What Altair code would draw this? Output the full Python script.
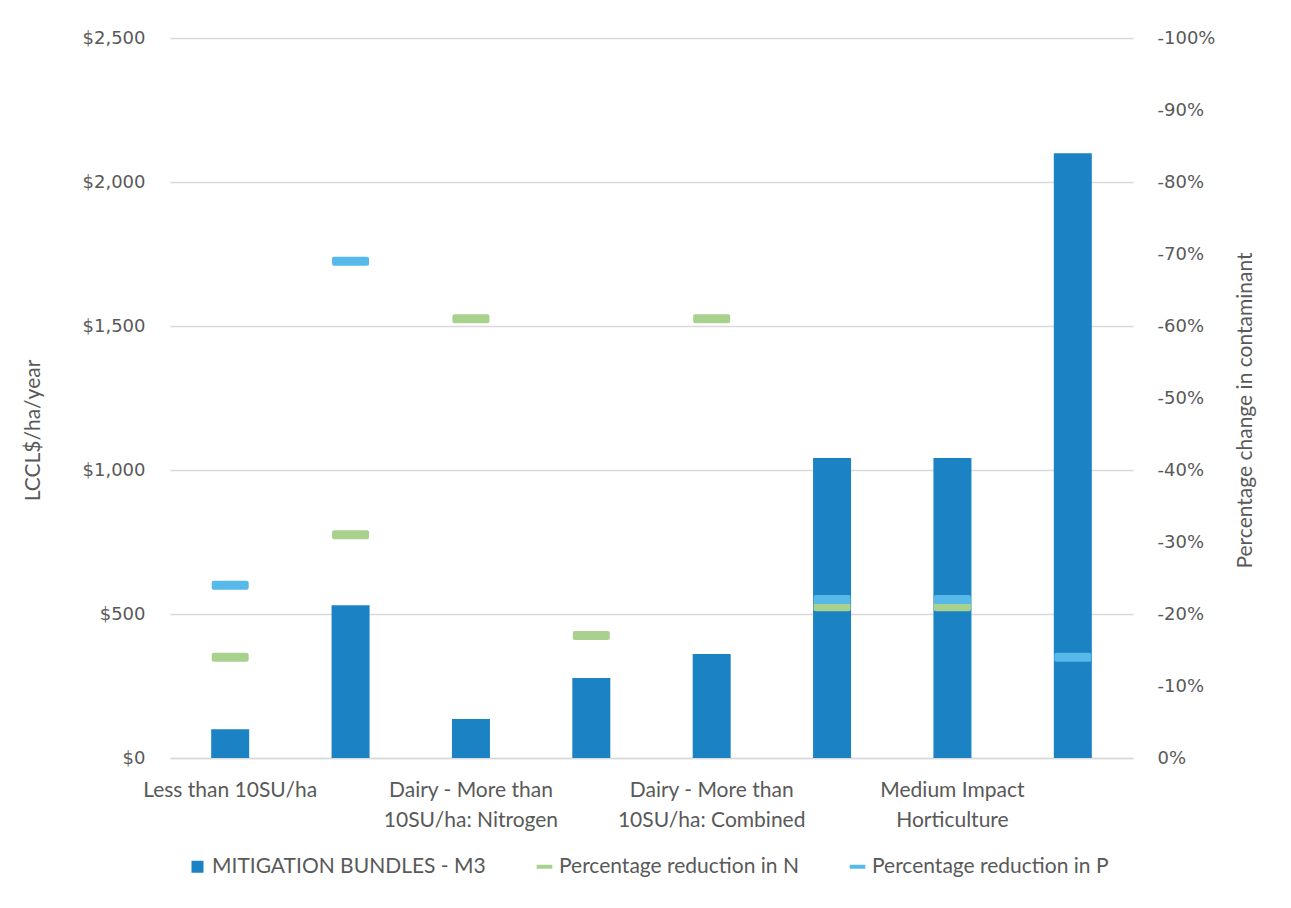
import json
import altair as alt
import pandas as pd

# ---------------- data ----------------
categories = [
    "Less than 10SU/ha",
    "More than 10SU/ha",
    "Dairy - More than 10SU/ha: Nitrogen",
    "Dairy - More than 10SU/ha: Phosphorus",
    "Dairy - More than 10SU/ha: Combined",
    "Low Impact Horticulture",
    "Medium Impact Horticulture",
    "High Impact Horticulture",
]
# axis labels as shown (Excel skipped every second one)
shown_labels = [
    ["Less than 10SU/ha"],
    "",
    ["Dairy - More than", "10SU/ha: Nitrogen"],
    "",
    ["Dairy - More than", "10SU/ha: Combined"],
    "",
    ["Medium Impact", "Horticulture"],
    "",
]
mitigation_cost = [100, 530, 135, 278, 361, 1042, 1042, 2100]
reduction_n = [-0.14, -0.31, -0.61, -0.17, -0.61, -0.21, -0.21, None]
reduction_p = [-0.24, -0.69, None, None, None, -0.22, -0.22, -0.14]
series_names = [
    "MITIGATION BUNDLES - M3",
    "Percentage reduction in N",
    "Percentage reduction in P",
]
left_ticks = [0, 500, 1000, 1500, 2000, 2500]
right_ticks = [0, -0.1, -0.2, -0.3, -0.4, -0.5, -0.6, -0.7, -0.8, -0.9, -1.0]

df = pd.DataFrame({
    "category": categories,
    "cost": mitigation_cost,
    "n": reduction_n,
    "p": reduction_p,
})
legend_df = pd.DataFrame({
    "series": series_names,
    "category": [categories[0]] * len(series_names),
    "cost": [0] * len(series_names),
})

# ---------------- style ----------------
BAR = "#1B82C4"
GREEN = "#A9D18E"
BLUE = "#56B9EA"
GREY = "#595959"
GRID = "#D9D9D9"
LABEL_FONT = "Lato"
TICK_FONT = "DejaVu Sans"

label_expr = ""
for cat, lab in zip(categories, shown_labels):
    label_expr += f"datum.value === {json.dumps(cat)} ? {json.dumps(lab)} : "
label_expr += "''"

x_enc = alt.X(
    "category:N",
    sort=categories,
    scale=alt.Scale(paddingInner=0, paddingOuter=0),
    axis=alt.Axis(
        title=None, labelAngle=0, labelExpr=label_expr, labelFont=LABEL_FONT,
        labelFontSize=21, labelColor=GREY, labelLineHeight=30, labelPadding=21,
        ticks=False, domainColor=GRID, domainWidth=1.3, labelOverlap=False,
        labelLimit=400, labelBound=False, labelBaseline="top",
    ),
)

y_left = alt.Y(
    "cost:Q",
    scale=alt.Scale(domain=[0, 2500]),
    axis=alt.Axis(
        values=left_ticks, format="$,.0f", title="LCCL$/ha/year", grid=True,
        gridColor=GRID, gridWidth=1.3, ticks=False, domain=False,
        labelFont=TICK_FONT, labelFontSize=18, labelColor=GREY, labelPadding=25,
        titleFont=LABEL_FONT, titleFontSize=21, titleFontWeight="normal",
        titleColor=GREY, titleX=-137, titleY=392, titleAngle=270,
        titleBaseline="middle",
    ),
)

right_axis = alt.Axis(
    orient="right", values=right_ticks,
    labelExpr="replace(format(datum.value, '.0%'), '\u2212', '-')",
    title="Percentage change in contaminant", grid=False, ticks=False,
    domain=False, labelFont=TICK_FONT, labelFontSize=18, labelColor=GREY,
    labelPadding=24, titleFont=LABEL_FONT, titleFontSize=21,
    titleFontWeight="normal", titleColor=GREY, titleX=112, titleY=372,
    titleAngle=270, titleBaseline="middle",
)
right_scale = alt.Scale(domain=[0, -1])

bars = alt.Chart(df).mark_bar(size=38, color=BAR).encode(x=x_enc, y=y_left)

legend = alt.Legend(
    orient="none", legendX=17, legendY=818, direction="horizontal", title=None,
    labelFont=LABEL_FONT, labelFontSize=21, labelColor=GREY, symbolSize=144,
    symbolOpacity=1, symbolStrokeWidth=0, columnPadding=48, labelOffset=4,
    labelLimit=400, padding=0,
)
dash = "M-1.3,-0.33L1.3,-0.33L1.3,0.33L-1.3,0.33Z"
legend_pts = alt.Chart(legend_df).mark_point(filled=True, opacity=0).encode(
    x=x_enc,
    y=y_left,
    color=alt.Color("series:N", scale=alt.Scale(domain=series_names, range=[BAR, GREEN, BLUE]), legend=legend),
    shape=alt.Shape("series:N", scale=alt.Scale(domain=series_names, range=["square", dash, dash]), legend=legend),
)

tick_n = alt.Chart(df).mark_tick(color=GREEN, size=37, thickness=9, cornerRadius=2, opacity=1).encode(
    x=x_enc, y=alt.Y("n:Q", scale=right_scale, axis=right_axis)
)
tick_p = alt.Chart(df).mark_tick(color=BLUE, size=37, thickness=9, cornerRadius=2, opacity=1).encode(
    x=x_enc, y=alt.Y("p:Q", scale=right_scale, axis=right_axis)
)

left = alt.layer(bars, legend_pts)
right = alt.layer(tick_n, tick_p)

chart = (
    alt.layer(left, right)
    .resolve_scale(y="independent")
    .properties(
        width=963, height=720, autosize="none",
        padding={"left": 162, "top": 30, "right": 150, "bottom": 142},
        background="white",
    )
    .configure_view(stroke=None)
)

chart.save("out.html", embed_options={"renderer": "svg", "actions": False})
